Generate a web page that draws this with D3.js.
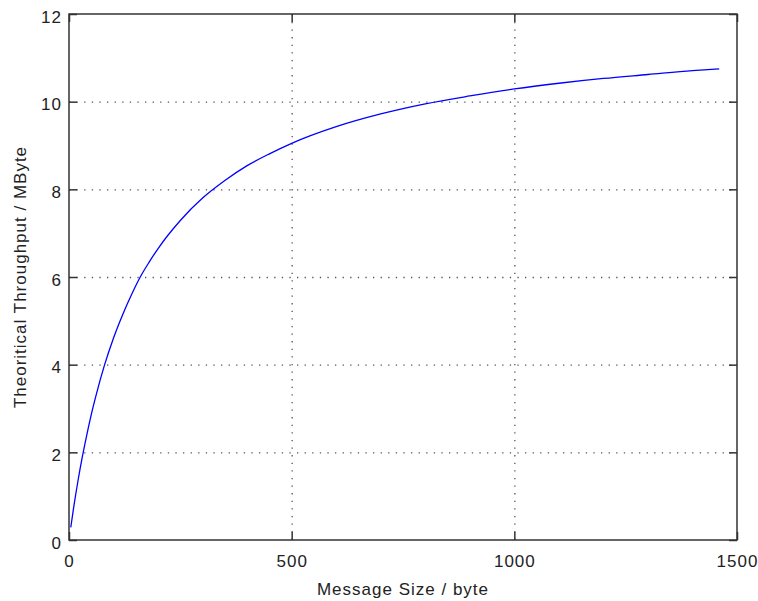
<!DOCTYPE html>
<html lang="en">
<head>
<meta charset="UTF-8">
<title>Theoretical Throughput</title>
<script src="https://d3js.org/d3.v7.min.js"></script>
<style>
  body { margin: 0; background: #fff; }
  svg text { font-family: "Liberation Sans", Arial, sans-serif; font-size: 17px; letter-spacing: 1px; fill: #222; }
  .grid line { stroke: #555; stroke-width: 1.3; stroke-dasharray: 1.3, 6.3; }
  .ticks line { stroke: #333; stroke-width: 1.5; }
</style>
</head>
<body>
<div id="chart"></div>
<script>
// message size (byte) and throughput (MByte)
const msgSize = [4, 10, 20, 30, 40, 50, 60, 80, 100, 120, 140, 160, 180, 200, 250, 300, 350, 400, 450,
                 500, 600, 700, 800, 900, 1000, 1100, 1200, 1300, 1400, 1460];
const throughput = [0.29, 0.71, 1.34, 1.90, 2.40, 2.86, 3.27, 4.00, 4.61, 5.13, 5.59, 6.00, 6.34, 6.65, 7.29, 7.80, 8.20, 8.54, 8.81,
                    9.05, 9.43, 9.72, 9.95, 10.13, 10.29, 10.42, 10.53, 10.62, 10.71, 10.75];
const xTicks = [0, 500, 1000, 1500];
const yTicks = [0, 2, 4, 6, 8, 10, 12];
const xLabel = "Message Size / byte";
const yLabel = "Theoritical Throughput / MByte";

const W = 758, H = 601;
const m = {left: 69, right: 737, top: 14, bottom: 540};

const svg = d3.select("#chart").append("svg")
    .attr("width", W)
    .attr("height", H);

svg.append("rect").attr("width", W).attr("height", H).attr("fill", "#fff");

const x = d3.scaleLinear().domain([0, 1500]).range([m.left, m.right]);
const y = d3.scaleLinear().domain([0, 12]).range([m.bottom, m.top]);
const fmt = d3.format("d");

// dotted grid
svg.append("g")
    .attr("class", "grid")
    .attr("transform", "translate(0," + m.bottom + ")")
    .call(d3.axisBottom(x).tickValues(xTicks.slice(1, -1)).tickSize(-(m.bottom - m.top)).tickFormat(""))
    .call(g => g.select(".domain").remove());

svg.append("g")
    .attr("class", "grid")
    .attr("transform", "translate(" + m.left + ",0)")
    .call(d3.axisLeft(y).tickValues(yTicks.slice(1, -1)).tickSize(-(m.right - m.left)).tickFormat(""))
    .call(g => g.select(".domain").remove());

// the curve
const line = d3.line()
    .x(d => x(d[0]))
    .y(d => y(d[1]))
    .curve(d3.curveMonotoneX);

svg.append("path")
    .datum(msgSize.map((s, i) => [s, throughput[i]]))
    .attr("fill", "none")
    .attr("stroke", "#0000ff")
    .attr("stroke-width", 1.3)
    .attr("d", line);

// inward ticks on all four sides
const tick = 8;
svg.append("g")
    .attr("class", "ticks")
    .attr("transform", "translate(0," + m.bottom + ")")
    .call(d3.axisBottom(x).tickValues(xTicks).tickFormat(fmt).tickSize(-tick).tickSizeOuter(0).tickPadding(15))
    .call(g => g.select(".domain").remove());

svg.append("g")
    .attr("class", "ticks")
    .attr("transform", "translate(0," + m.top + ")")
    .call(d3.axisTop(x).tickValues(xTicks).tickSize(-tick).tickSizeOuter(0).tickFormat(""))
    .call(g => g.select(".domain").remove());

svg.append("g")
    .attr("class", "ticks")
    .attr("transform", "translate(" + m.left + ",0)")
    .call(d3.axisLeft(y).tickValues(yTicks).tickFormat(fmt).tickSize(-tick).tickSizeOuter(0).tickPadding(7))
    .call(g => g.select(".domain").remove())
    .call(g => g.selectAll("text").attr("dy", "0.47em"));

svg.append("g")
    .attr("class", "ticks")
    .attr("transform", "translate(" + m.right + ",0)")
    .call(d3.axisRight(y).tickValues(yTicks).tickSize(-tick).tickSizeOuter(0).tickFormat(""))
    .call(g => g.select(".domain").remove());

svg.selectAll(".ticks text").attr("fill", "#222").style("font-size", "17px");

// box
svg.append("rect")
    .attr("x", m.left).attr("y", m.top)
    .attr("width", m.right - m.left).attr("height", m.bottom - m.top)
    .attr("fill", "none")
    .attr("stroke", "#333")
    .attr("stroke-width", 1.5);

// axis labels
svg.append("text")
    .attr("x", (m.left + m.right) / 2)
    .attr("y", 595)
    .attr("text-anchor", "middle")
    .text(xLabel);

svg.append("text")
    .attr("transform", "translate(26," + (m.top + m.bottom) / 2 + ") rotate(-90)")
    .attr("text-anchor", "middle")
    .text(yLabel);
</script>
</body>
</html>
